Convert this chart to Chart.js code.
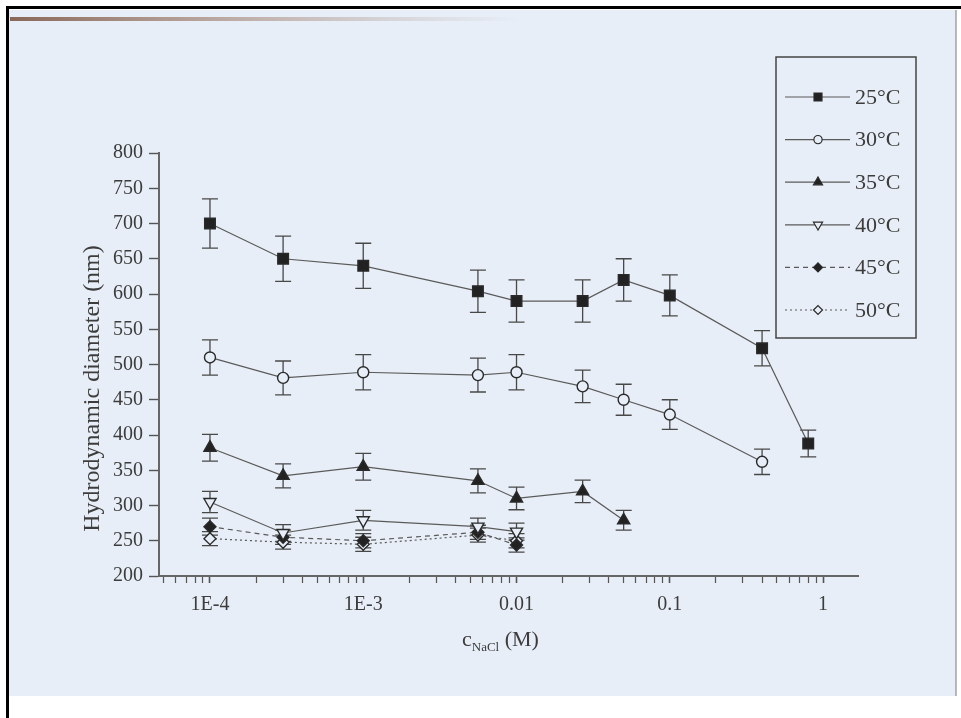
<!DOCTYPE html>
<html>
<head>
<meta charset="utf-8">
<style>
  html, body { margin: 0; padding: 0; background: #fff; }
  canvas { display: block; }
</style>
<script src="https://cdn.jsdelivr.net/npm/chart.js@4/dist/chart.umd.min.js"></script>
</head>
<body>
<canvas id="chart" width="961" height="718"></canvas>
<script>
// NaCl concentration (M)
const concentrations = [1e-4, 3e-4, 1e-3, 0.0056, 0.01, 0.027, 0.05, 0.1, 0.4, 0.8]

// hydrodynamic diameter (nm) and error bar half-widths per temperature
const d25 = [700, 650, 640, 604, 590, 590, 620, 598, 523, 388]
const e25 = [35, 32, 32, 30, 30, 30, 30, 29, 25, 19]
const d30 = [510, 481, 489, 485, 489, 469, 450, 429, 362]
const e30 = [25, 24, 25, 24, 25, 23, 22, 21, 18]
const d35 = [382, 342, 355, 335, 310, 320, 279]
const e35 = [19, 17, 19, 17, 16, 16, 14]
const d40 = [305, 261, 279, 270, 263]
const e40 = [15, 12, 14, 12, 12]
const d45 = [270, 255, 250, 262, 244]
const e45 = [12, 10, 10, 10, 10]
const d50 = [253, 248, 245, 258, 250]
const e50 = [10, 10, 10, 10, 10]

const seriesLabels = ['25°C', '30°C', '35°C', '40°C', '45°C', '50°C']
const xTickValues = [1e-4, 1e-3, 0.01, 0.1, 1]
const xTickLabels = ['1E-4', '1E-3', '0.01', '0.1', '1']

const paper = '#e7eef7'
const ink = '#3c3c3c'
const lineInk = '#5a5a5a'
const serif = '"Liberation Serif", "DejaVu Serif", serif'

const toPoints = ys => ys.map((y, i) => ({ x: concentrations[i], y }))

const markers = [
  { pointStyle: 'rect', radius: 7.5, rotation: 0, filled: true, dash: [] },
  { pointStyle: 'circle', radius: 5.5, rotation: 0, filled: false, dash: [] },
  { pointStyle: 'triangle', radius: 7, rotation: 0, filled: true, dash: [] },
  { pointStyle: 'triangle', radius: 7, rotation: 180, filled: false, dash: [] },
  { pointStyle: 'rectRot', radius: 6, rotation: 0, filled: true, dash: [5, 4] },
  { pointStyle: 'rectRot', radius: 6, rotation: 0, filled: false, dash: [2, 3] },
]
const values = [d25, d30, d35, d40, d45, d50]
const errors = [e25, e30, e35, e40, e45, e50]

const datasets = values.map((ys, i) => ({
  label: seriesLabels[i],
  data: toPoints(ys),
  borderColor: lineInk,
  borderWidth: 1.2,
  borderDash: markers[i].dash,
  pointStyle: markers[i].pointStyle,
  pointRadius: markers[i].radius,
  pointRotation: markers[i].rotation,
  pointBackgroundColor: markers[i].filled ? '#222' : paper,
  pointBorderColor: '#2a2a2a',
  pointBorderWidth: 1.4,
  tension: 0,
}))

const scanBackground = {
  id: 'scanBackground',
  beforeDraw: chart => {
    const ctx = chart.ctx
    ctx.save()
    ctx.fillStyle = '#fff'
    ctx.fillRect(0, 0, chart.width, chart.height)
    ctx.fillStyle = paper
    ctx.fillRect(8, 10, 948, 686)
    // brownish shadow along the top edge of the scan
    const g = ctx.createLinearGradient(10, 0, 520, 0)
    g.addColorStop(0, 'rgba(120,80,60,0.85)')
    g.addColorStop(0.5, 'rgba(150,110,90,0.45)')
    g.addColorStop(1, 'rgba(160,140,130,0)')
    ctx.fillStyle = g
    ctx.fillRect(10, 17, 510, 4)
    ctx.fillStyle = 'rgba(120,120,125,0.5)'
    ctx.fillRect(955, 10, 2, 686)
    // frame
    ctx.fillStyle = '#000'
    ctx.fillRect(6, 6, chart.width - 6, 3)
    ctx.fillRect(6, 6, 3, chart.height - 6)
    ctx.restore()
  },
}

const errorBars = {
  id: 'errorBars',
  beforeDatasetsDraw: chart => {
    const ctx = chart.ctx
    const yScale = chart.scales.y
    ctx.save()
    ctx.strokeStyle = '#484848'
    ctx.lineWidth = 1.3
    chart.data.datasets.forEach((ds, i) => {
      const meta = chart.getDatasetMeta(i)
      meta.data.forEach((pt, j) => {
        const v = ds.data[j].y
        const e = errors[i][j]
        const top = yScale.getPixelForValue(v + e)
        const bot = yScale.getPixelForValue(v - e)
        ctx.beginPath()
        ctx.moveTo(pt.x, top)
        ctx.lineTo(pt.x, bot)
        ctx.moveTo(pt.x - 8, top)
        ctx.lineTo(pt.x + 8, top)
        ctx.moveTo(pt.x - 8, bot)
        ctx.lineTo(pt.x + 8, bot)
        ctx.stroke()
      })
    })
    ctx.restore()
  },
}

const textAndLegend = {
  id: 'textAndLegend',
  afterDraw: chart => {
    const ctx = chart.ctx
    const area = chart.chartArea
    ctx.save()
    ctx.fillStyle = ink

    // y axis title
    ctx.save()
    ctx.translate(area.left - 66, (area.top + area.bottom) / 2 + 24)
    ctx.rotate(-Math.PI / 2)
    ctx.font = '24px ' + serif
    ctx.textAlign = 'center'
    ctx.textBaseline = 'middle'
    ctx.fillText('Hydrodynamic diameter (nm)', 0, 0)
    ctx.restore()

    // x axis title: c with NaCl subscript
    ctx.textBaseline = 'alphabetic'
    ctx.textAlign = 'left'
    const bx = 462
    const by = area.bottom + 70
    ctx.font = '22px ' + serif
    ctx.fillText('c', bx, by)
    const cw = ctx.measureText('c').width
    ctx.font = '13px ' + serif
    ctx.fillText('NaCl', bx + cw, by + 5)
    const sw = ctx.measureText('NaCl').width
    ctx.font = '22px ' + serif
    ctx.fillText(' (M)', bx + cw + sw, by)

    // legend box
    const lx = 776, ly = 57, lw = 140, lh = 281
    ctx.strokeStyle = '#444'
    ctx.lineWidth = 1.5
    ctx.strokeRect(lx, ly, lw, lh)
    seriesLabels.forEach((label, i) => {
      const y = 97 + i * 42.6
      ctx.save()
      ctx.strokeStyle = lineInk
      ctx.lineWidth = 1.2
      ctx.setLineDash(markers[i].dash)
      ctx.beginPath()
      ctx.moveTo(785, y)
      ctx.lineTo(850, y)
      ctx.stroke()
      ctx.setLineDash([])
      ctx.fillStyle = markers[i].filled ? '#222' : paper
      ctx.strokeStyle = '#2a2a2a'
      Chart.helpers.drawPoint(ctx, {
        pointStyle: markers[i].pointStyle,
        radius: markers[i].radius * 0.75,
        rotation: markers[i].rotation,
        borderWidth: 1.3,
      }, 818, y)
      ctx.restore()
      ctx.font = '22px ' + serif
      ctx.textBaseline = 'middle'
      ctx.fillText(label, 855, y + 1)
    })
    ctx.restore()
  },
}

const majorSet = new Set(xTickValues)

new Chart(document.getElementById('chart'), {
  type: 'line',
  data: { datasets },
  plugins: [scanBackground, errorBars, textAndLegend],
  options: {
    responsive: false,
    animation: false,
    layout: { padding: { left: 0, top: 153, right: 103, bottom: 0 } },
    plugins: { legend: { display: false }, tooltip: { enabled: false } },
    scales: {
      x: {
        type: 'logarithmic',
        min: 4.65e-5,
        max: 1.69,
        afterBuildTicks: scale => {
          const ticks = []
          for (let p = -5; p <= 0; p++) {
            for (let k = 1; k <= 9; k++) {
              const v = k * Math.pow(10, p)
              if (v >= scale.min && v <= scale.max) ticks.push({ value: v })
            }
          }
          scale.ticks = ticks
        },
        afterFit: scale => { scale.height = 718 - 576 },
        border: { display: true, color: '#666', width: 2 },
        grid: {
          drawOnChartArea: false,
          drawTicks: true,
          tickLength: 7,
          tickColor: '#555',
          tickWidth: ctx => (ctx.tick && majorSet.has(ctx.tick.value) ? 1.6 : 1.2),
        },
        ticks: {
          autoSkip: false,
          maxRotation: 0,
          padding: 10,
          color: ink,
          font: { family: serif, size: 20 },
          callback: v => {
            const idx = xTickValues.indexOf(v)
            return idx >= 0 ? xTickLabels[idx] : ''
          },
        },
      },
      y: {
        min: 200,
        max: 800,
        afterFit: scale => { scale.width = 159 },
        border: { display: true, color: '#666', width: 2 },
        grid: {
          drawOnChartArea: false,
          drawTicks: true,
          tickLength: 10,
          tickColor: '#555',
          tickWidth: 1.4,
        },
        ticks: {
          stepSize: 25,
          padding: 6,
          color: ink,
          font: { family: serif, size: 20 },
          callback: v => (v % 50 === 0 ? String(v) : ''),
        },
      },
    },
  },
})
</script>
</body>
</html>
